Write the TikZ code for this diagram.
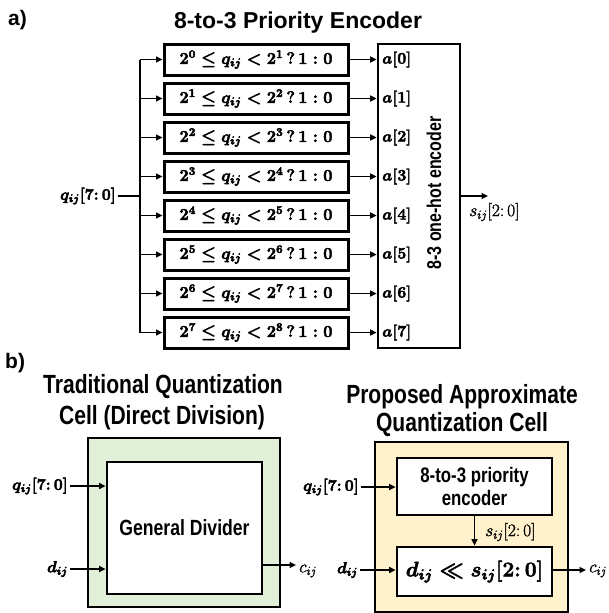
\RequirePackage{fix-cm}
\documentclass[tikz,border=0pt]{standalone}
\usepackage{fontspec}
\usetikzlibrary{arrows.meta}
\newfontfamily\nar[FakeStretch=0.8]{Liberation Sans}
\newfontfamily\arl{Liberation Sans}
\definecolor{cellgreen}{RGB}{226,239,217}
\definecolor{cellyellow}{RGB}{255,242,204}
\newcommand{\fs}[1]{\fontsize{#1}{#1}\selectfont}
\newcommand{\fb}[1]{\special{pdf:literal direct 2 Tr 0.45 w}#1\special{pdf:literal direct 0 Tr}}
\newcommand{\fl}[1]{\special{pdf:literal direct 2 Tr 0.25 w}#1\special{pdf:literal direct 0 Tr}}
\begin{document}
\begin{tikzpicture}[x=1pt,y=-1pt,
  arr/.style={line width=1.4pt,-{Triangle[length=6.5pt,width=6pt]}},
  wire/.style={line width=1.4pt},
  cmpbox/.style={draw,line width=3pt,minimum width=184pt,minimum height=31pt,inner sep=0pt,font=\fs{16.5}\boldmath},
  blk/.style={draw,line width=2.8pt,fill=white,inner sep=0pt},
  ttl/.style={font=\nar\bfseries\fs{26.3},inner sep=0pt,anchor=base},
  lbl/.style={inner sep=2pt,font=\fs{16}\boldmath},
  lblr/.style={inner sep=2pt,font=\fs{17.5}},
  tag/.style={font=\arl\bfseries\fs{21},inner sep=0pt}
  ]
\useasboundingbox (0,0) rectangle (608,613);
% ---------------- part a ----------------
\node[tag,anchor=west] (ta) at (8,20) {a)};
\node[font=\arl\bfseries\fs{23},inner sep=0pt,anchor=base] (tenc) at (298,28) {8-to-3 Priority Encoder};
\node[blk,minimum width=82pt,minimum height=304pt] (enc) at (419,196) {};
\node[rotate=90,font=\nar\bfseries\fs{20},inner sep=0pt] (enctxt) at (434,193) {8-3 one-hot encoder};
\foreach \i/\lo/\hi in {0/0/1,1/1/2,2/2/3,3/3/4,4/4/5,5/5/6,6/6/7,7/7/8}{
  \node[cmpbox] (c\i) at (256,{59.5+39*\i}) {\fb{$2^{\lo}\le q_{ij}<2^{\hi}\,?\,1:0$}};
  \draw[arr] (c\i.east -| 350,0) -- (c\i.east -| enc.west);
  \node[lbl,anchor=west,inner sep=1pt] (a\i) at (381,{59.5+39*\i}) {\fb{$a[\i]$}};
}
\coordinate (bt) at (140,59.5);
\coordinate (bb) at (140,332.5);
\draw[wire] (bt) -- (bb);
\foreach \i in {0,...,7}{
  \draw[arr] (c\i.west -| bt) -- (c\i.west);
}
\node[lbl,anchor=east] (qin) at (118,196) {\fb{$q_{ij}[7\colon 0]$}};
\draw[wire] (qin.east) -- (qin.east -| bt);
\coordinate (sout) at (488,196);
\draw[arr] (enc.east |- sout) -- (sout);
\node[lblr,anchor=west] (slbl) at (467,212) {\fl{$s_{ij}[2\colon 0]$}};
% ---------------- part b ----------------
\node[tag,anchor=west] (tb) at (5,363) {b)};
\node[ttl] (t1a) at (163,393) {Traditional Quantization};
\node[ttl] (t1b) at (162,424) {Cell (Direct Division)};
\node[ttl] (t2a) at (462,403) {Proposed Approximate};
\node[ttl] (t2b) at (462,431) {Quantization Cell};
% left cell
\node[draw,line width=2.2pt,fill=cellgreen,minimum width=192pt,minimum height=169pt,inner sep=0pt] (gcell) at (184,522.5) {};
\node[blk,minimum width=155pt,minimum height=132pt,font=\nar\bfseries\fs{22}] (div) at (184.5,528) {General Divider};
\node[lbl,anchor=east] (ql) at (70,486) {\fb{$q_{ij}[7\colon 0]$}};
\node[lbl,anchor=east] (dl) at (70,569) {\fb{$d_{ij}$}};
\draw[arr] (ql.east) -- (ql.east -| div.west);
\draw[arr] (dl.east) -- (dl.east -| div.west);
\coordinate (cl) at (296,565);
\draw[arr] (cl -| div.east) -- (cl);
\node[lblr,anchor=west] (cll) at (297,571) {\fl{$c_{ij}$}};
% right cell
\node[draw,line width=2.2pt,fill=cellyellow,minimum width=193pt,minimum height=170pt,inner sep=0pt] (ycell) at (471.5,527) {};
\node[blk,minimum width=155pt,minimum height=57pt,align=center,font=\nar\bfseries\fs{21}] (penc) at (474.5,486.5) {8-to-3 priority\\[2pt]encoder};
\node[blk,minimum width=155pt,minimum height=49pt,font=\fs{21}\boldmath] (shift) at (474.5,571.5) {\fb{$d_{ij}\ll s_{ij}[2\colon 0]$}};
\draw[arr] (penc.south) -- (shift.north);
\node[lblr,anchor=west] (sr) at (483,532) {\fl{$s_{ij}[2\colon 0]$}};
\node[lbl,anchor=east] (qr) at (361,487) {\fb{$q_{ij}[7\colon 0]$}};
\node[lbl,anchor=east] (dr) at (360,570) {\fb{$d_{ij}$}};
\draw[arr] (qr.east) -- (qr.east -| penc.west);
\draw[arr] (dr.east) -- (dr.east -| shift.west);
\coordinate (cr) at (586,570);
\draw[arr] (cr -| shift.east) -- (cr);
\node[lblr,anchor=west] (crl) at (587,571) {\fl{$c_{ij}$}};
\end{tikzpicture}
\end{document}
